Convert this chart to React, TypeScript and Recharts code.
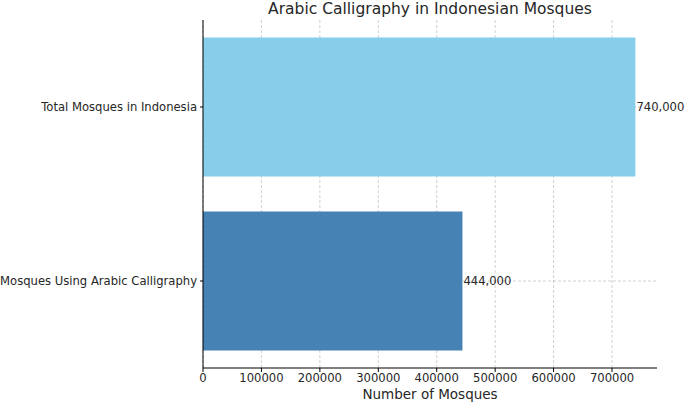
import React from "react";
import {
  BarChart,
  Bar,
  XAxis,
  YAxis,
  CartesianGrid,
  Cell,
  LabelList,
} from "recharts";

const categories = ["Total Mosques in Indonesia", "Mosques Using Arabic Calligraphy"];
const mosqueCounts = [740000, 444000];
const barColors = ["#87CEEB", "#4682B4"];
const xTicks = [0, 100000, 200000, 300000, 400000, 500000, 600000, 700000];
const xMax = 777000;

const data = categories.map((name, i) => ({ name, count: mosqueCounts[i] }));

const font = "'DejaVu Sans', sans-serif";
const textColor = "#262626";

const CategoryTick = (props: any) => {
  const { x, y, payload } = props;
  return (
    <text
      x={x - 1}
      y={y}
      dy="0.355em"
      textAnchor="end"
      fontSize={11.6}
      fill={textColor}
      fontFamily={font}
    >
      {payload.value}
    </text>
  );
};

const App = () => {
  return (
    <div style={{ position: "absolute", left: 0, top: 0, fontFamily: font }}>
      <div
        style={{
          position: "absolute",
          left: 203,
          width: 454,
          top: 0,
          textAlign: "center",
          fontSize: 15.5,
          color: textColor,
          lineHeight: "18px",
        }}
      >
        Arabic Calligraphy in Indonesian Mosques
      </div>
      <BarChart
        width={685}
        height={404}
        layout="vertical"
        data={data}
        margin={{ top: 20, right: 28, left: 0, bottom: 0 }}
        barCategoryGap="10%"
      >
        <XAxis
          type="number"
          domain={[0, xMax]}
          ticks={xTicks}
          allowDataOverflow
          stroke="#000"
          tickSize={4}
          tick={{ fontSize: 11.6, fill: textColor, fontFamily: font }}
          height={36}
          label={{
            value: "Number of Mosques",
            position: "insideBottom",
            offset: 5,
            style: { fontSize: 13.5, fill: textColor, fontFamily: font },
          }}
        />
        <YAxis
          type="category"
          dataKey="name"
          width={203}
          stroke="#000"
          tickSize={3}
          tick={<CategoryTick />}
        />
        <Bar dataKey="count" isAnimationActive={false}>
          {data.map((d, i) => (
            <Cell key={d.name} fill={barColors[i]} />
          ))}
          <LabelList
            dataKey="count"
            position="right"
            offset={1}
            formatter={(v: number) => v.toLocaleString("en-US")}
            style={{ fontSize: 11.6, fill: textColor, fontFamily: font }}
          />
        </Bar>
        <CartesianGrid
          stroke="#b0b0b0"
          strokeOpacity={0.6}
          strokeDasharray="3 2"
          verticalCoordinatesGenerator={({ offset }: any) =>
            xTicks.map((t) => offset.left + (t / xMax) * offset.width)
          }
          horizontalCoordinatesGenerator={({ offset }: any) =>
            categories.map(
              (_, i) => offset.top + ((i + 0.5) / categories.length) * offset.height
            )
          }
        />
      </BarChart>
    </div>
  );
};

export default App;
